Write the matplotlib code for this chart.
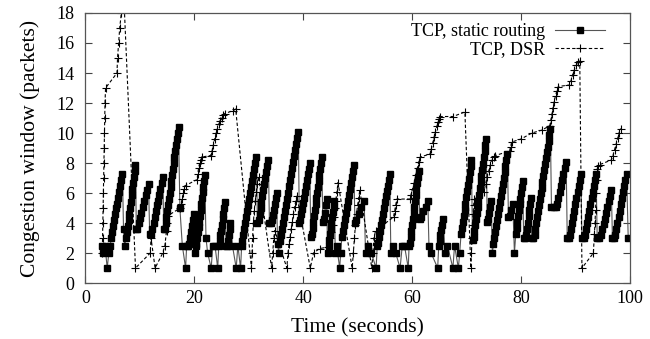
import matplotlib
matplotlib.use("Agg")
import matplotlib.pyplot as plt

plt.rcParams['font.family'] = ['Liberation Serif', 'DejaVu Serif']

# TCP over static routing: congestion window samples (time s, window packets)
static_t = [3.0, 3.3, 3.6, 4.0, 4.3, 4.6,
            4.70, 4.89, 5.08, 5.27, 5.46, 5.65, 5.85, 6.04, 6.23, 6.42, 6.61, 6.80,
            7.0, 7.2,
            7.5, 7.64, 7.78, 7.93, 8.07, 8.21, 8.35, 8.49, 8.63, 8.78, 8.92, 9.06, 9.2,
            9.35,
            9.5, 9.76, 10.03, 10.29, 10.55, 10.81, 11.08, 11.34, 11.6,
            11.8, 12.05,
            12.3, 12.51, 12.72, 12.93, 13.14, 13.36, 13.57, 13.78, 13.99, 14.2,
            14.4,
            14.6, 14.75, 14.89, 15.04, 15.19, 15.33, 15.48, 15.63, 15.78, 15.92, 16.07, 16.22, 16.36, 16.51, 16.66, 16.81, 16.95, 17.1,
            17.35, 17.8, 18.4, 18.6, 18.85,
            19.0, 19.18, 19.36, 19.54, 19.72, 19.9,
            20.1, 20.25,
            20.4, 20.53, 20.65, 20.78, 20.9, 21.03, 21.15, 21.28, 21.4, 21.53, 21.65, 21.78, 21.9,
            22.15, 22.45, 23.1, 23.4, 23.8, 24.3, 24.5,
            24.65, 24.79, 24.92, 25.06, 25.19, 25.33, 25.46, 25.6,
            25.85, 26.05,
            26.2, 26.33, 26.47, 26.6,
            27.0, 27.7, 28.0, 28.5, 28.7,
            28.85, 29.03, 29.21, 29.4, 29.58, 29.76, 29.94, 30.12, 30.31, 30.49, 30.67, 30.85, 31.03, 31.22, 31.4,
            31.6,
            31.8, 31.98, 32.16, 32.34, 32.52, 32.7, 32.88, 33.06, 33.24, 33.42, 33.6,
            33.8, 34.0,
            34.2, 34.38, 34.56, 34.74, 34.92, 35.1,
            35.3, 35.5,
            35.65, 35.84, 36.03, 36.23, 36.42, 36.61, 36.8, 36.99, 37.18, 37.38, 37.57, 37.76, 37.95, 38.14, 38.33, 38.53, 38.72, 38.91, 39.1,
            39.3,
            39.5, 39.67, 39.84, 40.01, 40.18, 40.35, 40.52, 40.69, 40.86, 41.03, 41.2,
            41.4,
            41.6, 41.74, 41.88, 42.02, 42.15, 42.29, 42.43, 42.57, 42.71, 42.85, 42.98, 43.12, 43.26, 43.4,
            43.6,
            43.8, 43.97, 44.13, 44.3,
            44.5,
            44.65, 44.78, 44.91, 45.04, 45.18, 45.31, 45.44, 45.57, 45.7,
            45.9, 46.15, 46.7, 46.9,
            47.1, 47.28, 47.47, 47.65, 47.83, 48.02, 48.2, 48.38, 48.57, 48.75, 48.93, 49.12, 49.3,
            49.5,
            49.7, 50.2, 50.7, 51.2,
            51.45, 51.95, 52.5, 53.4, 53.6,
            53.8, 53.98, 54.15, 54.33, 54.5, 54.68, 54.85, 55.03, 55.2, 55.38, 55.55, 55.73, 55.9,
            56.1, 56.5, 57.0, 57.8, 58.2, 58.6, 59.3, 59.45,
            59.6, 59.73, 59.87, 60.0, 60.13, 60.27, 60.4, 60.53, 60.67, 60.8, 60.93, 61.07, 61.2,
            61.4,
            61.6, 62.03, 62.47, 62.9,
            63.1, 63.5, 64.7, 64.9,
            65.05, 65.21, 65.38, 65.54, 65.7,
            66.0, 66.5, 67.5, 67.8, 68.5, 68.75,
            69.0, 69.16, 69.32, 69.48, 69.63, 69.79, 69.95, 70.11, 70.27, 70.43, 70.58, 70.74, 70.9,
            71.1,
            71.3, 71.44, 71.59, 71.73, 71.88, 72.02, 72.16, 72.31, 72.45, 72.59, 72.74, 72.88, 73.03, 73.17, 73.31, 73.46, 73.6,
            73.8,
            74.0, 74.17, 74.33, 74.5,
            74.75,
            74.95, 75.12, 75.29, 75.46, 75.63, 75.8, 75.97, 76.14, 76.31, 76.48, 76.65, 76.82, 76.99, 77.16, 77.33, 77.5,
            77.7,
            77.9, 78.2, 78.5,
            78.8,
            79.05, 79.19, 79.33, 79.47, 79.61, 79.74, 79.88, 80.02, 80.16, 80.3,
            80.5, 80.8,
            81.0, 81.13, 81.27, 81.4, 81.53, 81.67, 81.8,
            82.0, 82.3,
            82.5, 82.66, 82.82, 82.98, 83.14, 83.31, 83.47, 83.63, 83.79, 83.95, 84.11, 84.27, 84.43, 84.59, 84.76, 84.92, 85.08, 85.24, 85.4,
            85.6, 86.0, 86.4,
            86.6, 86.84, 87.09, 87.33, 87.57, 87.81, 88.06, 88.3,
            88.5, 88.8,
            89.0, 89.2, 89.4, 89.6, 89.8, 90.0, 90.2, 90.4, 90.6, 90.8, 91.0,
            91.2, 91.5,
            91.7, 91.91, 92.12, 92.33, 92.54, 92.75, 92.96, 93.17, 93.38, 93.59, 93.8,
            94.0, 94.4,
            94.7, 94.94, 95.18, 95.41, 95.65, 95.89, 96.13, 96.36, 96.6,
            96.8, 97.1,
            97.3, 97.51, 97.72, 97.93, 98.14, 98.35, 98.56, 98.77, 98.98, 99.19, 99.4,
            99.7]
static_w = [2.5, 2, 2.5, 1, 2, 2.5,
            3.0, 3.4, 3.8, 4.2, 4.6, 5.0, 5.3, 5.7, 6.1, 6.5, 6.9, 7.3,
            3.6, 2.5,
            3.0, 3.4, 3.8, 4.2, 4.6, 5.0, 5.4, 5.9, 6.3, 6.7, 7.1, 7.5, 7.9,
            3.6,
            3.6, 4.0, 4.35, 4.7, 5.1, 5.5, 5.85, 6.2, 6.6,
            3.3, 3.3,
            3.6, 4.0, 4.4, 4.8, 5.2, 5.5, 5.9, 6.3, 6.7, 7.1,
            3.6,
            3.6, 4.0, 4.4, 4.8, 5.2, 5.6, 6.0, 6.4, 6.8, 7.2, 7.6, 8.0, 8.4, 8.8, 9.2, 9.6, 10.0, 10.4,
            5.0, 2.5, 1, 2.5, 2.5,
            2.6, 3.0, 3.4, 3.8, 4.2, 4.6,
            2.0, 2.5,
            2.6, 3.0, 3.4, 3.75, 4.1, 4.5, 4.9, 5.3, 5.7, 6.05, 6.4, 6.8, 7.2,
            3.0, 2.0, 1, 2.5, 2.5, 1, 2.5,
            2.8, 3.2, 3.5, 3.9, 4.3, 4.6, 5.0, 5.4,
            2.5, 2.5,
            2.8, 3.2, 3.6, 4.0,
            2.5, 1, 2.5, 1, 2.5,
            2.8, 3.2, 3.6, 4.0, 4.4, 4.8, 5.2, 5.6, 6.0, 6.4, 6.8, 7.2, 7.6, 8.0, 8.4,
            4.0,
            4.2, 4.6, 5.0, 5.4, 5.8, 6.2, 6.6, 7.0, 7.4, 7.8, 8.2,
            4.0, 4.0,
            4.2, 4.55, 4.9, 5.3, 5.65, 6.0,
            2.6, 2.0,
            2.8, 3.2, 3.6, 4.0, 4.4, 4.8, 5.2, 5.6, 6.0, 6.45, 6.85, 7.25, 7.65, 8.05, 8.5, 8.9, 9.3, 9.7, 10.1,
            4.0,
            4.2, 4.6, 4.95, 5.35, 5.7, 6.1, 6.5, 6.85, 7.25, 7.6, 8.0,
            3.1,
            3.3, 3.7, 4.1, 4.5, 4.9, 5.3, 5.7, 6.0, 6.4, 6.8, 7.2, 7.6, 8.0, 8.4,
            4.1,
            4.3, 4.7, 5.2, 5.6,
            2.0,
            2.5, 2.9, 3.25, 3.6, 4.0, 4.4, 4.75, 5.1, 5.5,
            2.0, 2.5, 1, 2.0,
            3.1, 3.5, 3.9, 4.3, 4.7, 5.1, 5.5, 5.9, 6.3, 6.7, 7.1, 7.5, 7.9,
            4.0,
            4.2, 4.6, 5.1, 5.5,
            2.0, 2.5, 2.0, 1, 2.5,
            2.7, 3.1, 3.5, 3.85, 4.2, 4.6, 5.0, 5.4, 5.8, 6.15, 6.5, 6.9, 7.3,
            2.0, 2.5, 2.0, 1, 2.5, 2.5, 1, 2.5,
            2.7, 3.1, 3.5, 3.9, 4.3, 4.7, 5.1, 5.5, 5.9, 6.3, 6.7, 7.1, 7.5,
            4.3,
            4.4, 4.8, 5.1, 5.5,
            2.5, 2.0, 1, 2.5,
            2.8, 3.2, 3.55, 3.9, 4.3,
            2.0, 2.5, 1, 2.5, 1, 2.0,
            3.3, 3.7, 4.1, 4.5, 4.9, 5.3, 5.75, 6.15, 6.55, 6.95, 7.4, 7.8, 8.2,
            2.9,
            3.1, 3.5, 3.9, 4.3, 4.7, 5.1, 5.5, 5.9, 6.35, 6.75, 7.15, 7.55, 7.95, 8.4, 8.8, 9.2, 9.6,
            4.1,
            4.3, 4.7, 5.1, 5.5,
            2.0,
            2.6, 3.0, 3.4, 3.8, 4.2, 4.6, 5.0, 5.4, 5.8, 6.2, 6.6, 7.0, 7.4, 7.8, 8.2, 8.6,
            4.4,
            4.5, 4.9, 5.3,
            2.0,
            3.3, 3.7, 4.1, 4.5, 4.85, 5.25, 5.6, 6.0, 6.4, 6.8,
            3.0, 3.0,
            3.2, 3.6, 4.0, 4.45, 4.85, 5.3, 5.7,
            3.0, 3.0,
            3.2, 3.6, 4.0, 4.4, 4.8, 5.2, 5.6, 6.0, 6.35, 6.75, 7.15, 7.55, 7.95, 8.35, 8.75, 9.1, 9.5, 9.9, 10.3,
            5.1, 5.1, 5.1,
            5.3, 5.7, 6.1, 6.5, 6.9, 7.3, 7.7, 8.1,
            3.0, 3.0,
            3.2, 3.6, 4.0, 4.4, 4.8, 5.25, 5.65, 6.1, 6.5, 6.9, 7.3,
            3.0, 3.0,
            3.2, 3.6, 4.0, 4.4, 4.8, 5.25, 5.65, 6.1, 6.5, 6.9, 7.3,
            3.0, 3.0,
            3.2, 3.6, 3.95, 4.3, 4.7, 5.1, 5.45, 5.8, 6.2,
            3.0, 3.0,
            3.2, 3.6, 4.0, 4.4, 4.8, 5.25, 5.65, 6.1, 6.5, 6.9, 7.3,
            3.0]

# TCP over DSR
dsr_t = [3.1, 3.15, 3.2, 3.25, 3.3, 3.35, 3.4, 3.45, 3.5, 3.55, 3.6, 3.7,
         5.8, 5.9, 6.1, 6.3, 6.6, 7.1, 9.2, 11.9, 12.05, 12.8,
         14.2, 14.6, 14.9, 15.05, 15.2, 17.4, 17.6, 17.8, 18.0, 18.2, 18.4,
         20.5, 20.65, 20.8, 21.0, 21.2, 21.4, 23.0, 23.25, 23.5, 23.75, 24.0,
         24.25, 24.5, 24.8, 25.1, 25.35, 25.6, 27.2, 27.6,
         30.5, 30.6, 30.7, 30.85, 31.0, 31.2, 31.4, 31.6, 31.8,
         34.2, 34.4, 34.6, 34.8, 37.0, 37.2, 37.4, 37.6, 37.8, 38.0, 38.2,
         38.45, 38.65, 38.85, 41.3, 41.9, 43.0, 44.6, 45.0, 45.2, 45.4, 45.6,
         45.8, 46.0, 46.2, 46.4, 49.0, 49.2, 49.4, 49.6, 49.8, 50.0, 50.2, 50.4,
         52.6, 52.8, 53.0, 53.3, 56.6, 56.8, 57.0, 57.2,
         59.6, 59.8, 60.1, 60.4, 60.7, 61.0, 61.25, 61.5, 63.3, 63.55, 63.8,
         64.05, 64.3, 64.55, 64.8, 65.0, 65.2, 67.5, 69.7,
         70.8, 70.9, 71.0, 71.1, 71.2, 71.3, 71.45, 73.2, 73.5, 73.8, 74.1,
         74.4, 74.7, 75.0, 75.3, 77.9, 78.1, 78.3, 80.0, 82.0, 83.9,
         85.3, 85.5, 85.7, 85.9, 86.1, 86.35, 86.6, 86.85, 88.9, 89.2, 89.5,
         89.8, 90.1, 90.5, 90.8, 91.2, 93.3, 93.5, 93.6, 93.7, 93.8, 93.9,
         94.0, 94.2, 94.5, 96.6, 96.9, 97.2, 97.5, 97.8, 98.0, 98.3]
dsr_w = [2, 3, 4, 5, 6, 7, 8, 9, 10, 11, 12, 13,
         14, 15, 16, 17, 18, 18.7, 1, 2, 3, 1,
         2, 2.5, 3.5, 4.0, 4.5, 5.0, 5.3, 5.6, 6.0, 6.3, 6.5,
         6.9, 7.3, 7.7, 8.0, 8.2, 8.4, 8.5, 8.8, 9.2, 9.6, 10.0,
         10.3, 10.6, 10.8, 11.0, 11.2, 11.3, 11.5, 11.6,
         1, 2, 3, 4, 4.8, 5.5, 6.1, 6.6, 7.1,
         1, 2, 3, 3.5, 1, 2, 2.6, 3.1, 3.6, 4.1, 4.6,
         5.1, 5.5, 5.8, 1, 2, 2.3, 2.4, 3.0, 3.4, 3.9, 4.4,
         5.0, 5.5, 6.1, 6.7, 1, 2, 3, 3.9, 4.6, 5.2, 5.7, 6.2,
         1, 2, 3, 3.5, 4.4, 4.8, 5.2, 5.6,
         5.6, 5.9, 6.3, 6.7, 7.2, 7.7, 8.1, 8.4, 8.6, 8.95, 9.35,
         9.75, 10.1, 10.45, 10.75, 10.95, 11.1, 11.1, 11.4,
         1, 2, 3, 3.9, 4.6, 5.2, 5.6, 6.1, 6.6, 7.1, 7.5,
         7.9, 8.2, 8.4, 8.5, 8.8, 9.1, 9.4, 9.6, 10.0, 10.2,
         10.5, 10.9, 11.3, 11.7, 12.1, 12.5, 12.8, 13.1, 13.2, 13.5, 13.9,
         14.2, 14.5, 14.7, 14.8, 1, 2, 3.3, 4.0, 4.9, 6.0, 6.9,
         7.6, 7.8, 7.9, 8.2, 8.5, 8.9, 9.3, 9.7, 10.0, 10.3]

fig, ax = plt.subplots(figsize=(6.5, 3.39), dpi=100)
fig.subplots_adjust(left=0.1314, right=0.969, bottom=0.165, top=0.9617)

ax.plot(static_t, static_w, '-', color='#555555', lw=0.8, marker='s', ms=4.6,
        mfc='black', mec='black', label='TCP, static routing')
ax.plot(dsr_t, dsr_w, '--', color='black', lw=0.8, marker='+', ms=6, mew=0.8,
        dashes=(3, 2), label='TCP, DSR')

ax.set_xlim(0, 100)
ax.set_ylim(0, 18)
ax.set_xticks(range(0, 101, 20))
ax.set_yticks(range(0, 19, 2))
ax.tick_params(direction='in', top=True, right=True, length=5, width=0.8,
               labelsize=13, color='#444444')
ax.tick_params(axis='x', pad=5)
ax.tick_params(axis='y', pad=8)
for s in ax.spines.values():
    s.set_color('#555555')
    s.set_linewidth(0.9)

ax.set_xlabel('Time (seconds)', fontsize=15.5, labelpad=8)
ax.set_ylabel('Congestion window (packets)', fontsize=15.5, labelpad=12)

ax.legend(loc='upper right', bbox_to_anchor=(0.955, 0.963), frameon=False,
          markerfirst=False, numpoints=1, fontsize=13, handlelength=2.8,
          handletextpad=0.55, labelspacing=0.05, borderpad=0, borderaxespad=0)

plt.savefig('out.png', dpi=100)
